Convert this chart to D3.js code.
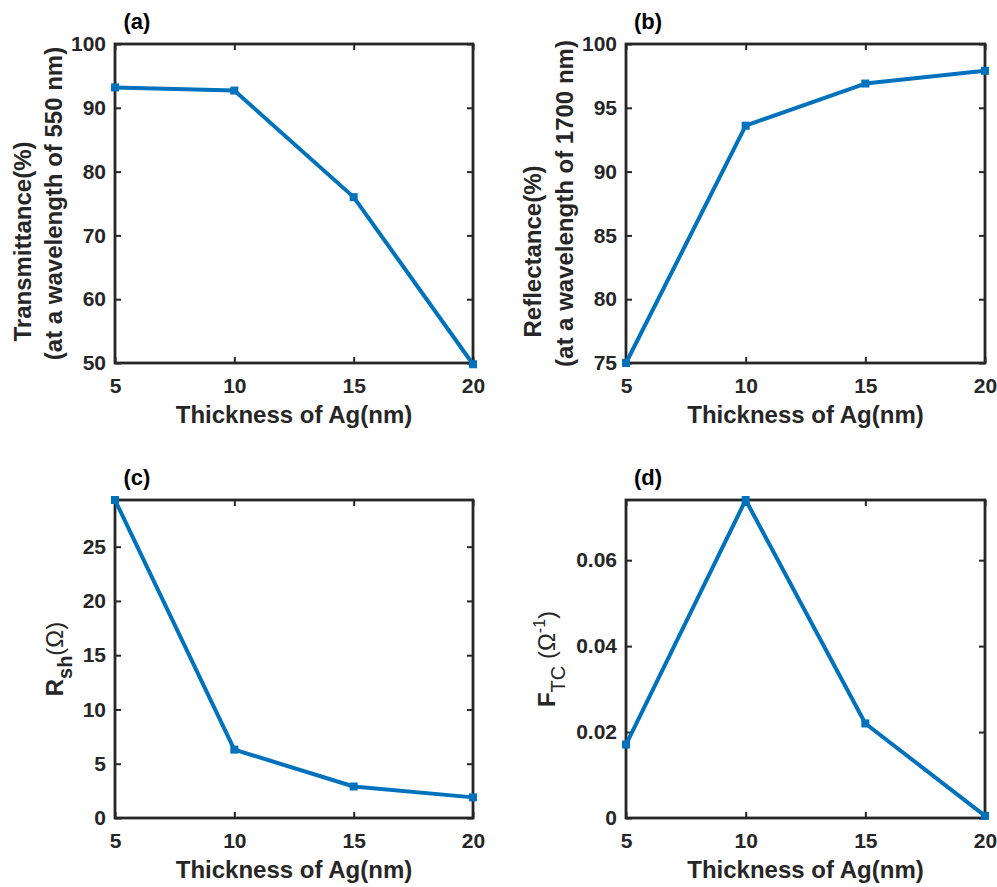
<!DOCTYPE html>
<html>
<head>
<meta charset="utf-8">
<script src="https://cdn.jsdelivr.net/npm/d3@7"></script>
<style>
  body { margin: 0; background: #fff; }
  text { font-family: Arial, "Liberation Sans", sans-serif; }
</style>
</head>
<body>
<div id="chart"></div>
<script>
// data
const thickness = [5, 10, 15, 20];
const transmittance = [93.2, 92.7, 76.0, 49.8];
const reflectance = [75.0, 93.6, 96.9, 97.9];
const sheetResistance = [29.3, 6.3, 2.9, 1.9];
const figureOfMerit = [0.0171, 0.074, 0.022, 0.0005];

const xTicks = [5, 10, 15, 20];
const transTicks = [50, 60, 70, 80, 90, 100];
const reflTicks = [75, 80, 85, 90, 95, 100];
const rshTicks = [0, 5, 10, 15, 20, 25];
const fomTicks = [0, 0.02, 0.04, 0.06];

const xLabel = "Thickness of Ag(nm)";

const INK = "#262626";
const BLUE = "#0072BD";

const W = 997, H = 887;
const cols = [[115, 473], [626, 985]];
const rows = [[44, 363], [500, 818]];

const panels = [
  { tag: "(a)", values: transmittance, yDomain: [50, 100], yTicks: transTicks, col: 0, row: 0,
    yLabel: [{ text: "Transmittance(%)", off: -84, shift: 38 }, { text: "(at a wavelength of 550 nm)", off: -53, shift: 0 }] },
  { tag: "(b)", values: reflectance, yDomain: [75, 100], yTicks: reflTicks, col: 1, row: 0,
    yLabel: [{ text: "Reflectance(%)", off: -85, shift: 48 }, { text: "(at a wavelength of 1700 nm)", off: -53, shift: 0 }] },
  { tag: "(c)", values: sheetResistance, yDomain: [0, 29.3], yTicks: rshTicks, col: 0, row: 1,
    yRich: { off: -52, parts: [
      { t: "R", w: "bold", s: 24, dy: 0 },
      { t: "sh", w: "bold", s: 20, dy: 9 },
      { t: "(Ω)", w: "normal", s: 24, dy: -9 }
    ] } },
  { tag: "(d)", values: figureOfMerit, yDomain: [0, 0.074], yTicks: fomTicks, col: 1, row: 1,
    yRich: { off: -71, parts: [
      { t: "F", w: "bold", s: 24, dy: 0 },
      { t: "TC", w: "normal", s: 20, dy: 10 },
      { t: "\u00a0(Ω", w: "normal", s: 24, dy: -10 },
      { t: "-1", w: "normal", s: 16, dy: -10 },
      { t: ")", w: "normal", s: 24, dy: 10 }
    ] } }
];

const svg = d3.select("#chart").append("svg")
  .attr("width", W)
  .attr("height", H)
  .style("display", "block");

const styleAxis = (sel) => {
  sel.select(".domain").remove();
  sel.selectAll(".tick line").attr("stroke", INK).attr("stroke-width", 2);
  sel.selectAll(".tick text")
    .attr("fill", INK)
    .style("font-size", "21px")
    .style("font-weight", "bold");
};

panels.forEach(p => {
  const [x0, x1] = cols[p.col];
  const [y0, y1] = rows[p.row];

  const x = d3.scaleLinear().domain([5, 20]).range([x0, x1]);
  const y = d3.scaleLinear().domain(p.yDomain).range([y1, y0]);
  const fmt = d3.format("~g");

  const g = svg.append("g");

  // inward ticks on all four sides, labels on bottom/left only
  g.append("g")
    .attr("transform", `translate(0,${y1})`)
    .call(d3.axisBottom(x).tickValues(xTicks).tickSizeInner(-6).tickSizeOuter(0).tickPadding(15).tickFormat(fmt))
    .call(styleAxis);
  g.append("g")
    .attr("transform", `translate(0,${y0})`)
    .call(d3.axisTop(x).tickValues(xTicks).tickSizeInner(-6).tickSizeOuter(0).tickFormat(""))
    .call(styleAxis);
  g.append("g")
    .attr("transform", `translate(${x0},0)`)
    .call(d3.axisLeft(y).tickValues(p.yTicks).tickSizeInner(-6).tickSizeOuter(0).tickPadding(9).tickFormat(fmt))
    .call(styleAxis);
  g.append("g")
    .attr("transform", `translate(${x1},0)`)
    .call(d3.axisRight(y).tickValues(p.yTicks).tickSizeInner(-6).tickSizeOuter(0).tickFormat(""))
    .call(styleAxis);

  // box
  g.append("rect")
    .attr("x", x0)
    .attr("y", y0)
    .attr("width", x1 - x0)
    .attr("height", y1 - y0)
    .attr("fill", "none")
    .attr("stroke", INK)
    .attr("stroke-width", 2.8);

  // series
  const pts = thickness.map((t, i) => [t, p.values[i]]);
  g.append("path")
    .datum(pts)
    .attr("fill", "none")
    .attr("stroke", BLUE)
    .attr("stroke-width", 4)
    .attr("stroke-linejoin", "round")
    .attr("d", d3.line().x(d => x(d[0])).y(d => y(d[1])));

  g.selectAll("rect.marker")
    .data(pts)
    .join("rect")
    .attr("class", "marker")
    .attr("x", d => x(d[0]) - 4)
    .attr("y", d => y(d[1]) - 4)
    .attr("width", 8)
    .attr("height", 8)
    .attr("fill", BLUE);

  // panel tag
  g.append("text")
    .attr("x", x0 + 22)
    .attr("y", y0 - 15)
    .attr("text-anchor", "middle")
    .attr("fill", "#000")
    .style("font-size", "22px")
    .style("font-weight", "bold")
    .text(p.tag);

  // x label
  g.append("text")
    .attr("x", (x0 + x1) / 2)
    .attr("y", y1 + 60)
    .attr("text-anchor", "middle")
    .attr("fill", INK)
    .style("font-size", "24px")
    .style("font-weight", "bold")
    .text(xLabel);

  // y label
  const cy = (y0 + y1) / 2;
  if (p.yLabel) {
    p.yLabel.forEach(l => {
      g.append("text")
        .attr("transform", `translate(${x0 + l.off},${cy + l.shift}) rotate(-90)`)
        .attr("text-anchor", "middle")
        .attr("fill", INK)
        .style("font-size", "24px")
        .style("font-weight", "bold")
        .text(l.text);
    });
  } else {
    const t = g.append("text")
      .attr("transform", `translate(${x0 + p.yRich.off},${cy}) rotate(-90)`)
      .attr("text-anchor", "middle")
      .attr("fill", INK);
    p.yRich.parts.forEach(part => {
      t.append("tspan")
        .attr("dy", part.dy)
        .style("font-size", part.s + "px")
        .style("font-weight", part.w)
        .text(part.t);
    });
  }
});
</script>
</body>
</html>
